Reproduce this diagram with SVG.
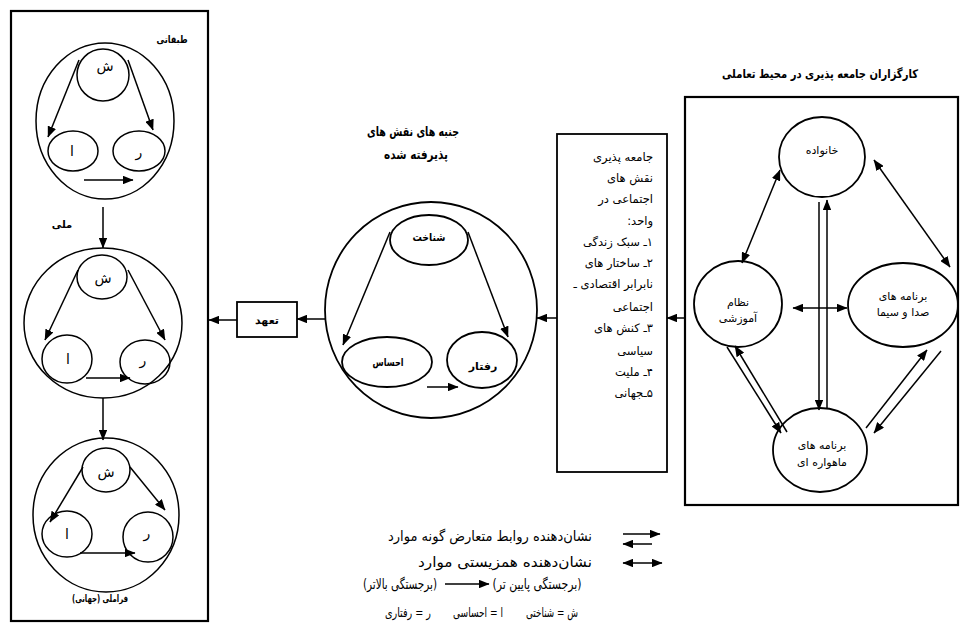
<svg xmlns="http://www.w3.org/2000/svg" width="960" height="633" viewBox="0 0 960 633">
<defs>
<style>
.frame{fill:none;stroke:#000;stroke-width:2.2}
.node{fill:none;stroke:#000;stroke-width:1.8}
.thin{fill:none;stroke:#000;stroke-width:1.5}
.ln{fill:none;stroke:#000;stroke-width:1.5}
.ah{marker-end:url(#a)}
.dh{marker-start:url(#a);marker-end:url(#a)}
text{font-family:"DejaVu Sans",sans-serif;fill:#000}
.b{font-weight:bold}
.s10{font-size:10px}
.s11{font-size:11px}
.s12{font-size:12px}
.s13{font-size:13px}
.s14{font-size:14px}
.m{text-anchor:middle}
</style>
<marker id="a" viewBox="0 0 10 8" refX="9.5" refY="4" markerWidth="11" markerHeight="8.8" markerUnits="userSpaceOnUse" orient="auto-start-reverse">
<path d="M0,0L10,4L0,8z" fill="#000"/>
</marker>
</defs>
<rect width="960" height="633" fill="#fff"/>

<g id="panel-left">
<rect class="frame" x="11" y="11" width="197" height="610"/>
</g>

<g id="triad-class">
<ellipse class="thin" cx="105" cy="121" rx="69" ry="78"/>
<ellipse class="thin" cx="103" cy="75" rx="26" ry="26"/>
<ellipse class="thin" cx="73" cy="151" rx="25" ry="20"/>
<ellipse class="thin" cx="139" cy="151" rx="26" ry="20"/>
<text class="b s10 m" x="172" y="43" textLength="31" lengthAdjust="spacingAndGlyphs">طبقاتی</text>
<text class="s14 m" x="105" y="71">ش</text>
<text class="s14 m" x="72" y="156">ا</text>
<text class="s14 m" x="139" y="157">ر</text>
</g>

<g id="triad-national">
<ellipse class="thin" cx="103" cy="323" rx="79" ry="75"/>
<ellipse class="thin" cx="102" cy="277" rx="25" ry="22"/>
<ellipse class="thin" cx="67" cy="359" rx="25" ry="24"/>
<ellipse class="thin" cx="145" cy="362" rx="25" ry="22"/>
<text class="b s10 m" x="62" y="228">ملی</text>
<text class="s14 m" x="103" y="283">ش</text>
<text class="s14 m" x="68" y="364">ا</text>
<text class="s14 m" x="143" y="365">ر</text>
</g>

<g id="triad-global">
<ellipse class="thin" cx="106" cy="515" rx="73" ry="77"/>
<ellipse class="thin" cx="106" cy="470" rx="24" ry="22"/>
<ellipse class="thin" cx="67" cy="534" rx="25" ry="23"/>
<ellipse class="thin" cx="148" cy="537" rx="25" ry="25"/>
<text class="s14 m" x="106" y="477">ش</text>
<text class="s14 m" x="67" y="539">ا</text>
<text class="s14 m" x="147" y="538">ر</text>
<text class="b s10 m" x="100" y="602" direction="rtl" textLength="56" lengthAdjust="spacingAndGlyphs">فراملی (جهانی)</text>
</g>

<g id="commitment">
<rect class="node" x="237" y="302" width="60" height="35"/>
<text class="b s11 m" x="267" y="324">تعهد</text>
</g>

<g id="role-aspects">
<text class="b s13 m" x="413" y="136" direction="rtl" textLength="92" lengthAdjust="spacingAndGlyphs">جنبه های نقش های</text>
<text class="b s13 m" x="416" y="159" direction="rtl" textLength="64" lengthAdjust="spacingAndGlyphs">پذیرفته شده</text>
<ellipse class="node" cx="431" cy="310" rx="106" ry="108"/>
<ellipse class="node" cx="429" cy="240" rx="39" ry="25"/>
<ellipse class="node" cx="387" cy="362" rx="45" ry="25"/>
<ellipse class="node" cx="482" cy="360" rx="35" ry="28"/>
<text class="b s11 m" x="429" y="241" textLength="33" lengthAdjust="spacingAndGlyphs">شناخت</text>
<text class="b s11 m" x="388" y="366" textLength="31" lengthAdjust="spacingAndGlyphs">احساس</text>
<text class="b s11 m" x="483" y="370">رفتار</text>
</g>

<g id="socialization-box">
<rect class="node" x="557" y="134" width="110" height="338"/>
<g style="font-size:11.5px">
<text x="653" y="161" direction="rtl">جامعه پذیری</text>
<text x="653" y="182" direction="rtl">نقش های</text>
<text x="653" y="203" direction="rtl">اجتماعی در</text>
<text x="653" y="225" direction="rtl">واحد:</text>
<text x="653" y="246" direction="rtl">۱ـ سبک زندگی</text>
<text x="653" y="267" direction="rtl">۲ـ ساختار های</text>
<text x="653" y="288" direction="rtl">نابرابر اقتصادی ـ</text>
<text x="653" y="311" direction="rtl">اجتماعی</text>
<text x="653" y="332" direction="rtl">۳ـ کنش های</text>
<text x="653" y="355" direction="rtl">سیاسی</text>
<text x="653" y="376" direction="rtl">۴ـ ملیت</text>
<text x="653" y="397" direction="rtl">۵ـجهانی</text>
</g>
</g>

<g id="agents">
<text class="b s12 m" x="820" y="78" direction="rtl" textLength="196" lengthAdjust="spacingAndGlyphs">کارگزاران جامعه پذیری در محیط تعاملی</text>
<rect class="frame" x="685" y="97" width="273" height="408"/>
</g>
<g id="family">
<ellipse class="node" cx="822" cy="157" rx="43" ry="40"/>
<text class="s11 m" x="822" y="154">خانواده</text>
</g>
<g id="education">
<ellipse class="node" cx="738" cy="304" rx="44" ry="43"/>
<text class="s11 m" x="738" y="306">نظام</text>
<text class="s11 m" x="738" y="322">آموزشی</text>
</g>
<g id="broadcast">
<ellipse class="node" cx="903" cy="305" rx="55" ry="42"/>
<text class="s11 m" x="903" y="300" direction="rtl">برنامه های</text>
<text class="s11 m" x="903" y="316" direction="rtl">صدا و سیما</text>
</g>
<g id="satellite">
<ellipse class="node" cx="820" cy="450" rx="47" ry="42"/>
<text class="s11 m" x="822" y="449" direction="rtl">برنامه های</text>
<text class="s11 m" x="822" y="466" direction="rtl">ماهواره ای</text>
</g>

<g id="connectors">
<line class="ln ah" x1="79" y1="60" x2="48" y2="137"/>
<line class="ln ah" x1="128" y1="60" x2="153" y2="130"/>
<line class="ln ah" x1="84" y1="180" x2="133" y2="180"/>
<line class="ln ah" x1="103" y1="207" x2="103" y2="248"/>
<line class="ln ah" x1="78" y1="270" x2="45" y2="340"/>
<line class="ln ah" x1="128" y1="270" x2="165" y2="340"/>
<line class="ln ah" x1="86" y1="378" x2="130" y2="378"/>
<line class="ln ah" x1="103" y1="398" x2="103" y2="440"/>
<line class="ln ah" x1="83" y1="467" x2="50" y2="522"/>
<line class="ln ah" x1="130" y1="467" x2="165" y2="510"/>
<line class="ln ah" x1="80" y1="553" x2="135" y2="553"/>

<line class="ln ah" x1="390" y1="232" x2="343" y2="345"/>
<line class="ln ah" x1="468" y1="232" x2="508" y2="337"/>
<line class="ln ah" x1="427" y1="387" x2="458" y2="387"/>

<line class="ln ah" x1="685" y1="318" x2="667" y2="318"/>
<line class="ln ah" x1="557" y1="318" x2="537" y2="318"/>
<line class="ln ah" x1="325" y1="319" x2="297" y2="319"/>
<line class="ln ah" x1="237" y1="320" x2="209" y2="320"/>

<line class="ln dh" x1="780" y1="170" x2="742" y2="263"/>
<line class="ln dh" x1="874" y1="160" x2="950" y2="267"/>
<line class="ln ah" x1="827" y1="408" x2="827" y2="200"/>
<line class="ln ah" x1="819" y1="202" x2="819" y2="410"/>
<line class="ln dh" x1="793" y1="308" x2="847" y2="308"/>
<line class="ln ah" x1="787" y1="432" x2="735" y2="346"/>
<line class="ln ah" x1="727" y1="347" x2="781" y2="433"/>
<line class="ln ah" x1="866" y1="428" x2="927" y2="350"/>
<line class="ln ah" x1="941" y1="351" x2="874" y2="433"/>
</g>

<g id="legend">
<text class="s14 m" x="490" y="541" direction="rtl" textLength="204" lengthAdjust="spacingAndGlyphs">نشان‌دهنده روابط متعارض گونه موارد</text>
<line class="ln ah" x1="623" y1="534" x2="660" y2="534"/>
<line class="ln ah" x1="652" y1="544" x2="623" y2="544"/>
<text class="s14 m" x="505" y="567" direction="rtl" textLength="174" lengthAdjust="spacingAndGlyphs">نشان‌دهنده همزیستی موارد</text>
<line class="ln dh" x1="623" y1="563" x2="662" y2="563"/>
<text class="s14 m" x="400" y="589" direction="rtl" textLength="74" lengthAdjust="spacingAndGlyphs">(برجستگی بالاتر)</text>
<line class="ln ah" x1="445" y1="584" x2="489" y2="584"/>
<text class="s14 m" x="537" y="589" direction="rtl" textLength="89" lengthAdjust="spacingAndGlyphs">(برجستگی پایین تر)</text>
<text class="s13 m" x="552" y="617" direction="rtl" textLength="52" lengthAdjust="spacingAndGlyphs">ش = شناختی</text>
<text class="s13 m" x="478" y="617" direction="rtl" textLength="50" lengthAdjust="spacingAndGlyphs">ا = احساسی</text>
<text class="s13 m" x="408" y="617" direction="rtl" textLength="46" lengthAdjust="spacingAndGlyphs">ر = رفتاری</text>
</g>
</svg>
